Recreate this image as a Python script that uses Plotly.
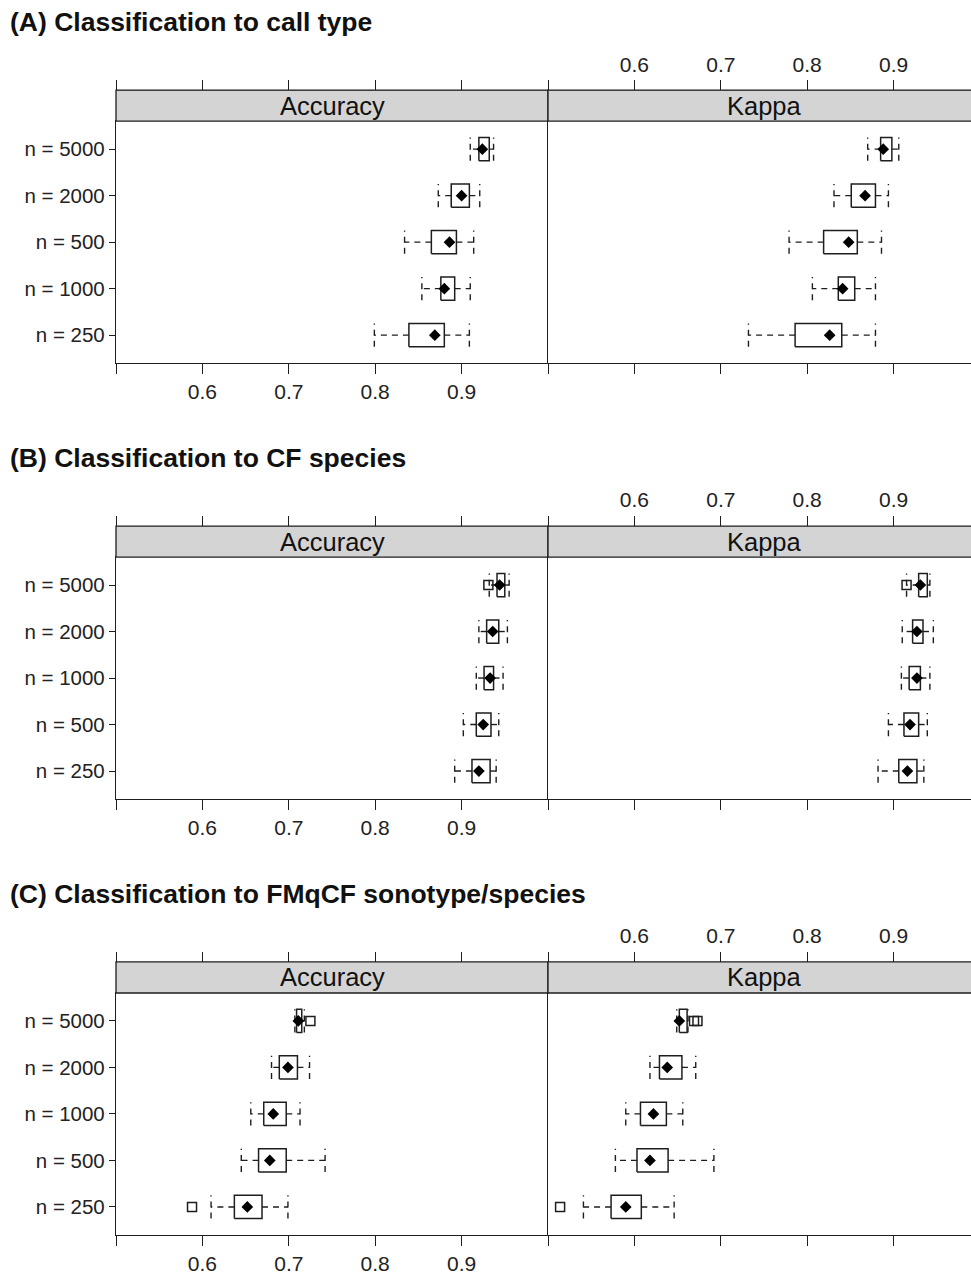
import plotly.graph_objects as go

# ---------------- data ----------------
rows_A = ["n = 5000", "n = 2000", "n = 500", "n = 1000", "n = 250"]
accA_lo = [0.910, 0.873, 0.834, 0.854, 0.799]
accA_q1 = [0.920, 0.888, 0.865, 0.876, 0.839]
accA_md = [0.924, 0.900, 0.886, 0.880, 0.869]
accA_q3 = [0.932, 0.909, 0.894, 0.892, 0.880]
accA_hi = [0.937, 0.921, 0.914, 0.910, 0.909]
accA_out = [[], [], [], [], []]
kapA_lo = [0.870, 0.831, 0.779, 0.806, 0.732]
kapA_q1 = [0.885, 0.851, 0.819, 0.836, 0.786]
kapA_md = [0.888, 0.867, 0.848, 0.841, 0.826]
kapA_q3 = [0.898, 0.879, 0.858, 0.855, 0.840]
kapA_hi = [0.906, 0.894, 0.886, 0.879, 0.879]
kapA_out = [[], [], [], [], []]

rows_B = ["n = 5000", "n = 2000", "n = 1000", "n = 500", "n = 250"]
accB_lo = [0.932, 0.920, 0.917, 0.902, 0.892]
accB_q1 = [0.941, 0.929, 0.926, 0.917, 0.912]
accB_md = [0.944, 0.936, 0.933, 0.925, 0.920]
accB_q3 = [0.950, 0.943, 0.937, 0.934, 0.933]
accB_hi = [0.955, 0.953, 0.948, 0.943, 0.940]
accB_out = [[0.931], [], [], [], []]
kapB_lo = [0.915, 0.910, 0.909, 0.894, 0.882]
kapB_q1 = [0.929, 0.922, 0.918, 0.912, 0.906]
kapB_md = [0.931, 0.927, 0.927, 0.919, 0.916]
kapB_q3 = [0.939, 0.934, 0.931, 0.929, 0.927]
kapB_hi = [0.942, 0.946, 0.942, 0.939, 0.935]
kapB_out = [[0.915], [], [], [], []]

rows_C = ["n = 5000", "n = 2000", "n = 1000", "n = 500", "n = 250"]
accC_lo = [0.707, 0.680, 0.656, 0.645, 0.610]
accC_q1 = [0.709, 0.689, 0.671, 0.665, 0.637]
accC_md = [0.711, 0.699, 0.682, 0.678, 0.652]
accC_q3 = [0.715, 0.710, 0.697, 0.697, 0.669]
accC_hi = [0.718, 0.724, 0.713, 0.742, 0.699]
accC_out = [[0.725], [], [], [], [0.588]]
kapC_lo = [0.649, 0.618, 0.590, 0.578, 0.541]
kapC_q1 = [0.652, 0.629, 0.607, 0.603, 0.573]
kapC_md = [0.652, 0.638, 0.622, 0.618, 0.590]
kapC_q3 = [0.661, 0.655, 0.637, 0.639, 0.608]
kapC_hi = [0.662, 0.671, 0.656, 0.692, 0.646]
kapC_out = [[0.669, 0.673], [], [], [], [0.514]]

titles = ["(A) Classification to call type",
          "(B) Classification to CF species",
          "(C) Classification to FMqCF sonotype/species"]
strip_labels = ["Accuracy", "Kappa"]
tick_vals = [0.5, 0.6, 0.7, 0.8, 0.9, 1.0]
tick_text = ["", "0.6", "0.7", "0.8", "0.9", ""]

panels = [
    dict(title=titles[0], rows=rows_A,
         stats=[(accA_lo, accA_q1, accA_md, accA_q3, accA_hi, accA_out),
                (kapA_lo, kapA_q1, kapA_md, kapA_q3, kapA_hi, kapA_out)]),
    dict(title=titles[1], rows=rows_B,
         stats=[(accB_lo, accB_q1, accB_md, accB_q3, accB_hi, accB_out),
                (kapB_lo, kapB_q1, kapB_md, kapB_q3, kapB_hi, kapB_out)]),
    dict(title=titles[2], rows=rows_C,
         stats=[(accC_lo, accC_q1, accC_md, accC_q3, accC_hi, accC_out),
                (kapC_lo, kapC_q1, kapC_md, kapC_q3, kapC_hi, kapC_out)]),
]

# ---------------- geometry ----------------
W, H = 971, 1275
X_LEFT, X_MID = 116, 548
PX_PER_UNIT = 864.0
OFFSET = 437.6
STRIP_TOP, PLOT_TOP, PLOT_BOT = 90.5, 121.7, 364.5
TITLE_Y = 22
BOX_H = 0.25
LINE_COL = "#1e1e1e"
FONT = "Liberation Sans, Arial, sans-serif"


def fx(px):
    return px / W


def fy(py):
    return 1 - py / H


x_ranges = [[0.5, 1.0], [0.5, 0.5 + (W - X_MID) / PX_PER_UNIT]]
x_domains = [[fx(X_LEFT), fx(X_MID)], [fx(X_MID), 1.0]]

fig = go.Figure()
layout = dict(width=W, height=H, margin=dict(l=0, r=0, t=0, b=0),
              paper_bgcolor="white", plot_bgcolor="white", showlegend=False,
              font=dict(family=FONT, color="#1e1e1e"))
shapes, annotations = [], []

for p, panel in enumerate(panels):
    off = p * OFFSET
    st, pt, pb = STRIP_TOP + off, PLOT_TOP + off, PLOT_BOT + off
    rows = panel["rows"]
    n = len(rows)
    yvals = [n - i for i in range(n)]

    annotations.append(dict(text="<b>" + panel["title"] + "</b>", x=fx(8), y=fy(TITLE_Y + off),
                            xref="paper", yref="paper", xanchor="left", yanchor="middle",
                            showarrow=False, font=dict(size=26.5, family=FONT, color="#111")))

    for c in range(2):
        k = p * 2 + c + 1
        kt = k + 6
        xid = "x" if k == 1 else f"x{k}"
        yid = "y" if k == 1 else f"y{k}"
        xtid = f"x{kt}"
        xkey = "xaxis" if k == 1 else f"xaxis{k}"
        ykey = "yaxis" if k == 1 else f"yaxis{k}"

        layout[xkey] = dict(domain=x_domains[c], range=x_ranges[c], anchor=yid, side="bottom",
                            tickmode="array", tickvals=tick_vals,
                            ticktext=tick_text if c == 0 else [""] * len(tick_vals),
                            ticks="outside", ticklen=10, tickwidth=1.2, tickcolor=LINE_COL,
                            showline=True, linecolor=LINE_COL, linewidth=1.3, mirror=True,
                            showgrid=False, zeroline=False,
                            tickfont=dict(size=21, family=FONT, color="#222"))
        layout[f"xaxis{kt}"] = dict(overlaying=xid, anchor="free", position=fy(st), side="top",
                                    range=x_ranges[c], tickmode="array", tickvals=tick_vals,
                                    ticktext=tick_text if c == 1 else [""] * len(tick_vals),
                                    ticks="outside", ticklen=10, tickwidth=1.2, tickcolor=LINE_COL,
                                    showline=True, linecolor=LINE_COL, linewidth=1.3,
                                    showgrid=False, zeroline=False,
                                    tickfont=dict(size=21, family=FONT, color="#222"))
        layout[ykey] = dict(domain=[fy(pb), fy(pt)], anchor=xid, range=[0.4, n + 0.6],
                            tickmode="array", tickvals=yvals, ticktext=rows,
                            showticklabels=(c == 0), ticks="outside" if c == 0 else "",
                            ticklen=6, tickwidth=1.2, tickcolor=LINE_COL,
                            showline=True, linecolor=LINE_COL, linewidth=1.3,
                            showgrid=False, zeroline=False,
                            tickfont=dict(size=20.5, family=FONT, color="#222"))

        # strip
        sx0 = X_LEFT if c == 0 else X_MID
        sx1 = X_MID if c == 0 else W + 5
        shapes.append(dict(type="rect", xref="paper", yref="paper",
                           x0=fx(sx0), x1=fx(sx1), y0=fy(pt), y1=fy(st),
                           fillcolor="#d4d4d4", line=dict(color=LINE_COL, width=1.3), layer="above"))
        annotations.append(dict(text=strip_labels[c], xref="paper", yref="paper",
                                x=fx((sx0 + (X_MID if c == 0 else X_MID + 432)) / 2),
                                y=fy((st + pt) / 2), xanchor="center", yanchor="middle",
                                showarrow=False, font=dict(size=25.5, family=FONT, color="#111")))

        lo, q1, md, q3, hi, outs = panel["stats"][c]
        bx, by, wx, wy = [], [], [], []
        ox, oy = [], []
        for i in range(n):
            y = yvals[i]
            bx += [q1[i], q3[i], q3[i], q1[i], q1[i], None]
            by += [y - BOX_H, y - BOX_H, y + BOX_H, y + BOX_H, y - BOX_H, None]
            wx += [q1[i], lo[i], None, q3[i], hi[i], None,
                   lo[i], lo[i], None, hi[i], hi[i], None]
            wy += [y, y, None, y, y, None,
                   y - BOX_H, y + BOX_H, None, y - BOX_H, y + BOX_H, None]
            for o in outs[i]:
                ox.append(o)
                oy.append(y)
        fig.add_trace(go.Scatter(x=wx, y=wy, mode="lines", xaxis=xid, yaxis=yid,
                                 line=dict(color=LINE_COL, width=1.4, dash="6px,5px"),
                                 hoverinfo="skip"))
        fig.add_trace(go.Scatter(x=bx, y=by, mode="lines", xaxis=xid, yaxis=yid,
                                 line=dict(color=LINE_COL, width=1.5), hoverinfo="skip"))
        fig.add_trace(go.Scatter(x=md, y=yvals, mode="markers", xaxis=xid, yaxis=yid,
                                 marker=dict(symbol="diamond", size=9, color="black")))
        if ox:
            fig.add_trace(go.Scatter(x=ox, y=oy, mode="markers", xaxis=xid, yaxis=yid,
                                     marker=dict(symbol="square-open", size=9, color=LINE_COL,
                                                 line=dict(width=1.5, color=LINE_COL))))
        # dummy trace to register the top axis
        fig.add_trace(go.Scatter(x=[0.75], y=[1], mode="markers", xaxis=xtid, yaxis=yid,
                                 marker=dict(opacity=0), hoverinfo="skip"))

layout["shapes"] = shapes
layout["annotations"] = annotations
fig.update_layout(**layout)
fig.write_html("out.html",
               config={"displayModeBar": False},
               post_script="document.body.style.margin='0';document.body.style.overflow='hidden';")
